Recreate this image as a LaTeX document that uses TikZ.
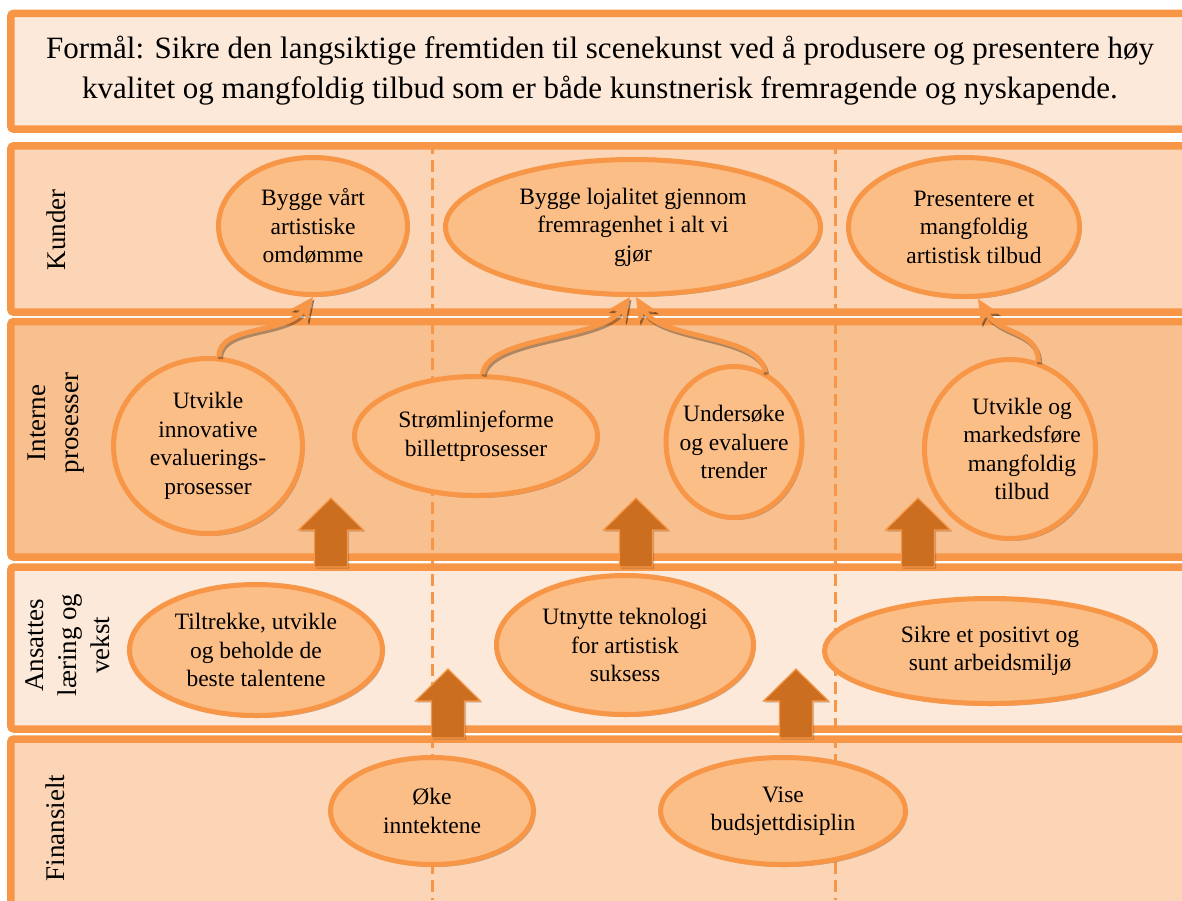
\documentclass[tikz,border=0pt]{standalone}
\usepackage{fontspec}
\setmainfont{Liberation Serif}
\usetikzlibrary{shapes.geometric, arrows.meta, shadows}

\definecolor{accent}{RGB}{247,150,70}
\definecolor{bandlight}{RGB}{253,233,217}
\definecolor{bandmid}{RGB}{251,213,181}
\definecolor{banddeep}{RGB}{249,192,143}
\definecolor{ovalfill}{RGB}{252,190,135}
\definecolor{blockfill}{RGB}{204,110,32}

\tikzset{
  band/.style={draw=accent, line width=7.5pt, rounded corners=3pt},
  divider/.style={draw=accent, line width=3pt, dash pattern=on 12pt off 6pt},
  oval/.style={ellipse, draw=accent, line width=5pt, fill=ovalfill, inner sep=0pt,
    drop shadow={shadow xshift=2pt, shadow yshift=-2.5pt, fill=black, opacity=.25}},
  ovaltext/.style={align=center, inner sep=0pt, font=\fontsize{23.5}{28.5}\selectfont},
  sidelabel/.style={rotate=90, align=center, inner sep=0pt, font=\fontsize{27}{33}\selectfont},
  linkhead/.tip={Stealth[length=24pt, width=22pt, inset=7pt, line width=1pt]},
  curvearrow/.style={draw=accent, line width=5pt, -linkhead},
  curveshadow/.style={draw=black, opacity=.3, line width=5pt, -linkhead,
    transform canvas={xshift=1.5pt, yshift=-2.5pt}},
  blockstyle/.style={fill=blockfill, draw=accent, line width=1.2pt, line join=miter,
    drop shadow={shadow xshift=1.5pt, shadow yshift=-1.5pt, fill=black, opacity=.2}},
  uparrow/.pic={
    \path[blockstyle] (0,0) -- (-16.5,0) -- (-16.5,-37) -- (-32.5,-37) -- (0,-69)
      -- (32.5,-37) -- (16.5,-37) -- (16.5,0) -- cycle;
  }
}

\begin{document}
\begin{tikzpicture}[x=1pt, y=-1pt]
\useasboundingbox (0,0) rectangle (1182,900);

% the purpose banner and the four perspective bands
\begin{scope}
  \clip (0,0) rectangle (1182,900);
  \path[band, fill=bandlight] (10.8,13.3) rectangle (1190,129.2);
  \path[band, fill=bandmid]   (10.8,145.8) rectangle (1190,312.2);
  \path[band, fill=banddeep]  (10.8,321.5) rectangle (1190,557);
  \path[band, fill=bandlight] (10.8,567) rectangle (1190,729);
  \path[band, fill=bandmid]   (10.8,739) rectangle (1190,920);
  % column dividers
  \path[divider] (432,142) -- (432,900);
  \path[divider] (835,142) -- (835,900);
\end{scope}

\node[align=center, inner sep=0pt, font=\fontsize{31}{40}\selectfont] (purpose) at (600,71)
  {Formål: Sikre den langsiktige fremtiden til scenekunst ved å produsere og presentere høy\\
   kvalitet og mangfoldig tilbud som er både kunstnerisk fremragende og nyskapende.};

% perspective labels
\node[sidelabel] (lkunder) at (56,230) {Kunder};
\node[sidelabel] (linterne) at (56,423) {Interne\\prosesser};
\node[sidelabel] (lansattes) at (68,645) {Ansattes\\læring og\\vekst};
\node[sidelabel] (lfinans) at (55,828) {Finansielt};

% block arrows between the lower rows
\pic (b1) at (331,567) {uparrow};
\pic (b2) at (636,567) {uparrow};
\pic (b3) at (918,567) {uparrow};
\pic (b4) at (448,738) {uparrow};
\pic (b5) at (796,738) {uparrow};

% Kunder
\node[oval, minimum width=189, minimum height=137] (e1) at (313,226) {};
\node[oval, minimum width=375, minimum height=135] (e2) at (633,227) {};
\node[oval, minimum width=231, minimum height=139] (e3) at (964,227) {};
% Interne prosesser
\node[oval, minimum width=189, minimum height=175] (e4) at (208,446) {};
\node[oval, minimum width=243, minimum height=119] (e5) at (476,436) {};
\node[oval, minimum width=136, minimum height=151] (e6) at (734,442) {};
\node[oval, minimum width=171, minimum height=179] (e7) at (1010,449) {};
% Ansattes laering og vekst
\node[oval, minimum width=253, minimum height=131] (e8) at (256,650) {};
\node[oval, minimum width=257, minimum height=139] (e9) at (625,645) {};
\node[oval, minimum width=331, minimum height=105] (e10) at (990,651) {};
% Finansielt
\node[oval, minimum width=203, minimum height=107] (e11) at (432,811) {};
\node[oval, minimum width=245, minimum height=107] (e12) at (783,811) {};

\node[ovaltext] at (e1) {Bygge vårt\\artistiske\\omdømme};
\node[ovaltext] at (e2) {Bygge lojalitet gjennom\\fremragenhet i alt vi\\gjør};
\node[ovaltext] at ([xshift=10pt]e3.center) {Presentere et\\mangfoldig\\artistisk tilbud};
\node[ovaltext] at (e4) {Utvikle\\innovative\\evaluerings-\\prosesser};
\node[ovaltext] at (e5) {Strømlinjeforme\\billettprosesser};
\node[ovaltext] at (e6) {Undersøke\\og evaluere\\trender};
\node[ovaltext] at ([xshift=12pt]e7.center) {Utvikle og\\markedsføre\\mangfoldig\\tilbud};
\node[ovaltext] at (e8) {Tiltrekke, utvikle\\og beholde de\\beste talentene};
\node[ovaltext] at (e9) {Utnytte teknologi\\for artistisk\\suksess};
\node[ovaltext] at (e10) {Sikre et positivt og\\sunt arbeidsmiljø};
\node[ovaltext] at (e11) {Øke\\inntektene};
\node[ovaltext] at (e12) {Vise\\budsjettdisiplin};

% curved links from the internal processes up to the customer goals
\foreach \style in {curveshadow, curvearrow} {
  \draw[\style] (e4.83) .. controls +(0,-32) and (285,335) .. (e1.south);
  \draw[\style] (e5.84) .. controls +(5,-38) and (600,340) .. ([xshift=-3pt]e2.south);
  \draw[\style] (e6.66) .. controls +(-5,-38) and (662,340) .. ([xshift=3pt]e2.south);
  \draw[\style] (e7.72) .. controls +(0,-32) and (1000,335) .. ([xshift=14pt]e3.south);
}
\end{tikzpicture}
\end{document}
